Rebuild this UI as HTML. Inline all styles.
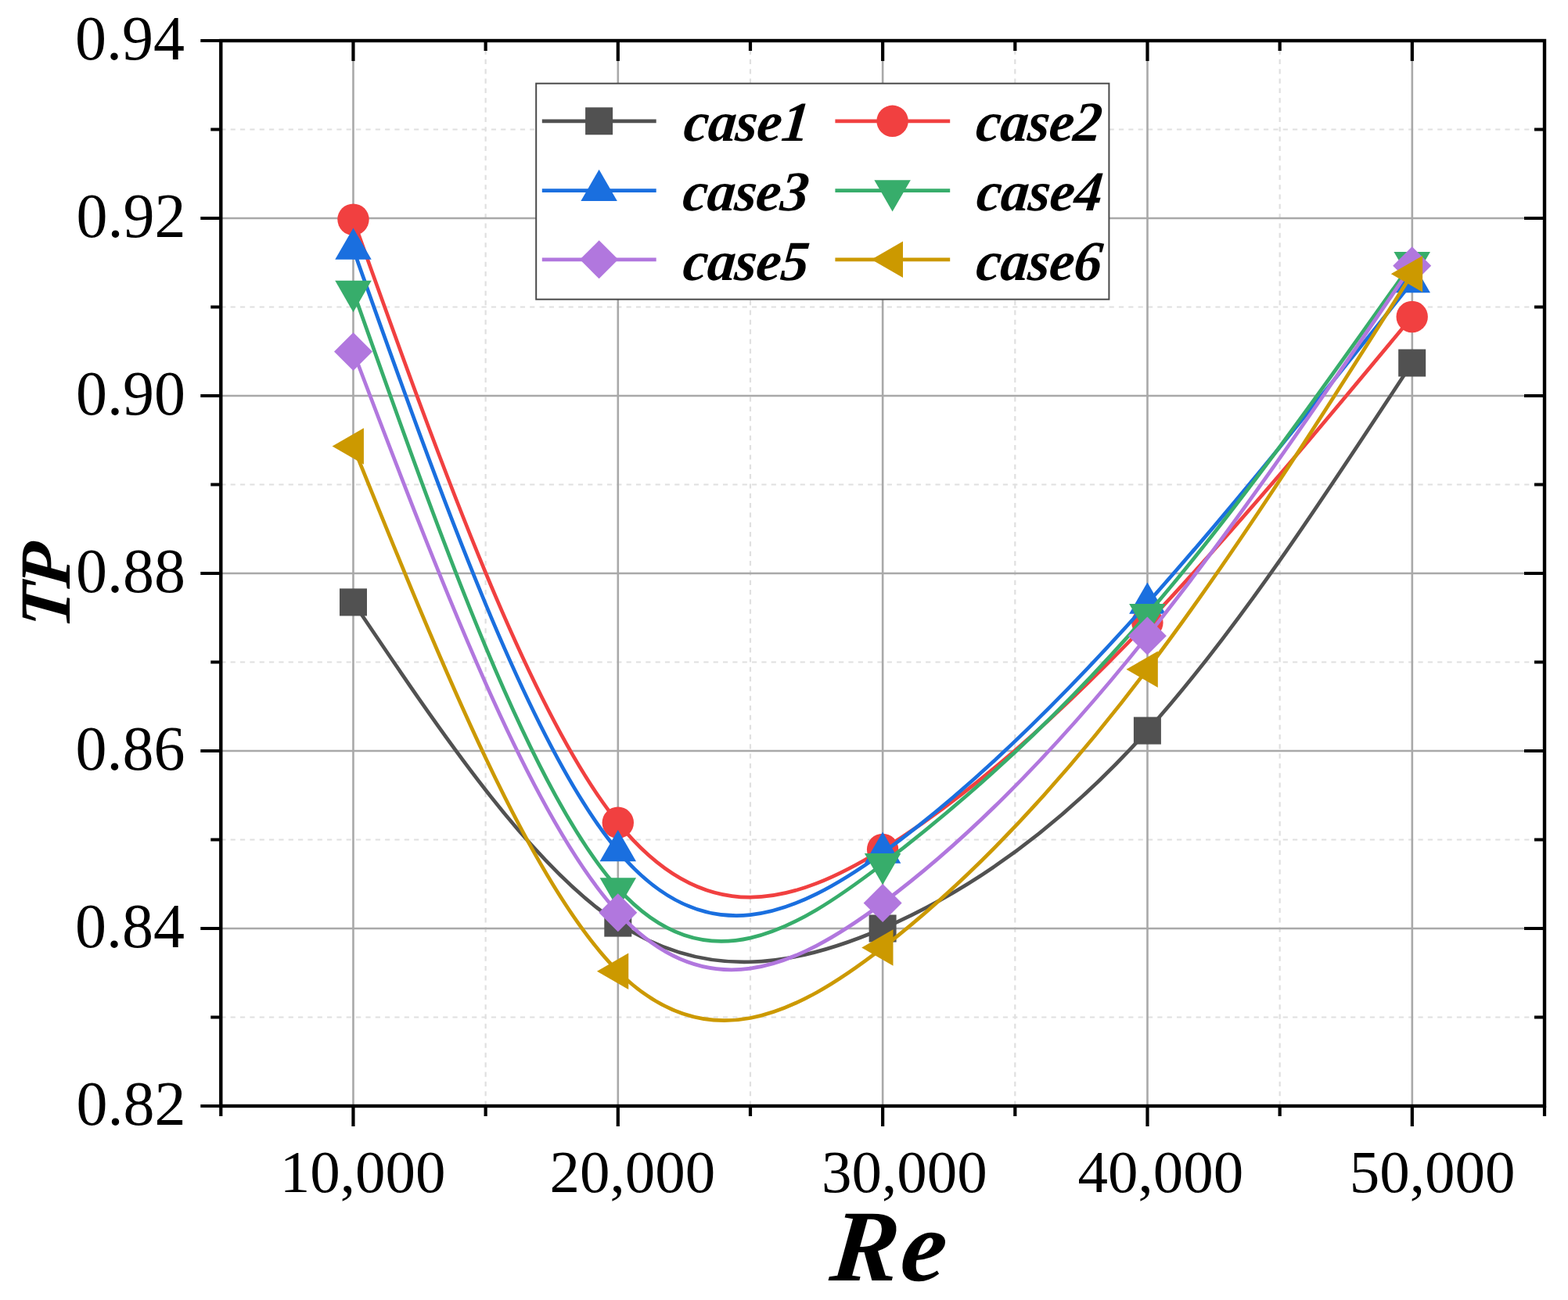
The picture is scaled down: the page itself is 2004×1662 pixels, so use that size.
<!DOCTYPE html><html><head><meta charset="utf-8"><title>TP vs Re</title><style>html,body{margin:0;padding:0;background:#fff;overflow:hidden;}svg{display:block;}</style></head><body>
<svg width="2004" height="1662" viewBox="0 0 2004 1662">
<rect width="2004" height="1662" fill="#fff"/>
<path d="M282.3,165.50H1974.0M282.3,392.50H1974.0M282.3,619.50H1974.0M282.3,846.50H1974.0M282.3,1073.50H1974.0M282.3,1300.50H1974.0" stroke="#e0e0e0" stroke-width="2.2" stroke-dasharray="6.2 6.14" fill="none"/>
<path d="M620.64,52.0V1414.0M958.98,52.0V1414.0M1297.32,52.0V1414.0M1635.66,52.0V1414.0" stroke="#e0e0e0" stroke-width="2.2" stroke-dasharray="6.2 6.13" stroke-dashoffset="0.8" fill="none"/>
<path d="M282.3,279.00H1974.0M282.3,506.00H1974.0M282.3,733.00H1974.0M282.3,960.00H1974.0M282.3,1187.00H1974.0M451.47,52.0V1414.0M789.81,52.0V1414.0M1128.15,52.0V1414.0M1466.49,52.0V1414.0M1804.83,52.0V1414.0" stroke="#a9a9a9" stroke-width="2.6" fill="none"/>
<path d="M451.50,769.90C564.27,937.75 677.03,1105.60 789.80,1180.10C902.57,1254.60 1015.33,1235.75 1128.10,1187.00C1240.87,1138.25 1353.63,1059.58 1466.40,934.10C1579.17,808.62 1691.93,636.31 1804.70,464.00" stroke="#515151" stroke-width="4.7" fill="none"/>
<rect x="434.00" y="752.40" width="35" height="35" fill="#515151"/>
<rect x="772.30" y="1162.60" width="35" height="35" fill="#515151"/>
<rect x="1110.60" y="1169.50" width="35" height="35" fill="#515151"/>
<rect x="1448.90" y="916.60" width="35" height="35" fill="#515151"/>
<rect x="1787.20" y="446.50" width="35" height="35" fill="#515151"/>
<path d="M451.50,280.60C564.27,596.31 677.03,912.03 789.80,1051.70C902.57,1191.37 1015.33,1155.01 1128.10,1085.90C1240.87,1016.79 1353.63,914.94 1466.40,796.00C1579.17,677.06 1691.93,541.03 1804.70,405.00" stroke="#F14040" stroke-width="4.7" fill="none"/>
<circle cx="451.50" cy="280.60" r="20.2" fill="#F14040"/>
<circle cx="789.80" cy="1051.70" r="20.2" fill="#F14040"/>
<circle cx="1128.10" cy="1085.90" r="20.2" fill="#F14040"/>
<circle cx="1466.40" cy="796.00" r="20.2" fill="#F14040"/>
<circle cx="1804.70" cy="405.00" r="20.2" fill="#F14040"/>
<path d="M451.50,318.40C564.27,636.28 677.03,954.17 789.80,1087.90C902.57,1221.63 1015.33,1171.21 1128.10,1090.30C1240.87,1009.39 1353.63,897.98 1466.40,771.30C1579.17,644.62 1691.93,502.66 1804.70,360.70" stroke="#1A6FDF" stroke-width="4.7" fill="none"/>
<polygon points="451.50,291.53 474.75,331.83 428.25,331.83" fill="#1A6FDF"/>
<polygon points="789.80,1061.03 813.05,1101.33 766.55,1101.33" fill="#1A6FDF"/>
<polygon points="1128.10,1063.43 1151.35,1103.73 1104.85,1103.73" fill="#1A6FDF"/>
<polygon points="1466.40,744.43 1489.65,784.73 1443.15,784.73" fill="#1A6FDF"/>
<polygon points="1804.70,333.83 1827.95,374.13 1781.45,374.13" fill="#1A6FDF"/>
<path d="M451.50,372.30C564.27,691.64 677.03,1010.97 789.80,1135.70C902.57,1260.43 1015.33,1190.54 1128.10,1104.50C1240.87,1018.46 1353.63,916.26 1466.40,785.40C1579.17,654.54 1691.93,495.02 1804.70,335.50" stroke="#37AD6B" stroke-width="4.7" fill="none"/>
<polygon points="451.50,399.17 474.75,358.87 428.25,358.87" fill="#37AD6B"/>
<polygon points="789.80,1162.57 813.05,1122.27 766.55,1122.27" fill="#37AD6B"/>
<polygon points="1128.10,1131.37 1151.35,1091.07 1104.85,1091.07" fill="#37AD6B"/>
<polygon points="1466.40,812.27 1489.65,771.97 1443.15,771.97" fill="#37AD6B"/>
<polygon points="1804.70,362.37 1827.95,322.07 1781.45,322.07" fill="#37AD6B"/>
<path d="M451.50,449.40C564.27,746.58 677.03,1043.76 789.80,1166.70C902.57,1289.64 1015.33,1238.33 1128.10,1154.50C1240.87,1070.67 1353.63,954.32 1466.40,813.10C1579.17,671.88 1691.93,505.79 1804.70,339.70" stroke="#B177DE" stroke-width="4.7" fill="none"/>
<polygon points="451.50,424.90 476.00,449.40 451.50,473.90 427.00,449.40" fill="#B177DE"/>
<polygon points="789.80,1142.20 814.30,1166.70 789.80,1191.20 765.30,1166.70" fill="#B177DE"/>
<polygon points="1128.10,1130.00 1152.60,1154.50 1128.10,1179.00 1103.60,1154.50" fill="#B177DE"/>
<polygon points="1466.40,788.60 1490.90,813.10 1466.40,837.60 1441.90,813.10" fill="#B177DE"/>
<polygon points="1804.70,315.20 1829.20,339.70 1804.70,364.20 1780.20,339.70" fill="#B177DE"/>
<path d="M451.50,570.60C564.27,850.09 677.03,1129.59 789.80,1241.80C902.57,1354.01 1015.33,1298.94 1128.10,1211.60C1240.87,1124.26 1353.63,1004.65 1466.40,855.70C1579.17,706.75 1691.93,528.48 1804.70,350.20" stroke="#CC9900" stroke-width="4.7" fill="none"/>
<polygon points="424.63,570.60 464.93,547.35 464.93,593.85" fill="#CC9900"/>
<polygon points="762.93,1241.80 803.23,1218.55 803.23,1265.05" fill="#CC9900"/>
<polygon points="1101.23,1211.60 1141.53,1188.35 1141.53,1234.85" fill="#CC9900"/>
<polygon points="1439.53,855.70 1479.83,832.45 1479.83,878.95" fill="#CC9900"/>
<polygon points="1777.83,350.20 1818.13,326.95 1818.13,373.45" fill="#CC9900"/>
<rect x="685.2" y="106.7" width="732.2" height="276.0" fill="#fff" stroke="#4a4a4a" stroke-width="2"/>
<line x1="692.8" y1="154.8" x2="838.7" y2="154.8" stroke="#515151" stroke-width="4.7"/>
<rect x="748.10" y="137.30" width="35" height="35" fill="#515151"/>
<text transform="translate(872.25,179.50) skewX(-5.5)" font-family="'Liberation Serif', serif" font-weight="bold" font-style="italic" font-size="72" letter-spacing="-0.8">case1</text>
<line x1="1067.4" y1="154.8" x2="1214.2" y2="154.8" stroke="#F14040" stroke-width="4.7"/>
<circle cx="1140.60" cy="154.80" r="20.2" fill="#F14040"/>
<text transform="translate(1245.65,179.50) skewX(-5.5)" font-family="'Liberation Serif', serif" font-weight="bold" font-style="italic" font-size="72" letter-spacing="-0.8">case2</text>
<line x1="692.8" y1="243.6" x2="838.7" y2="243.6" stroke="#1A6FDF" stroke-width="4.7"/>
<polygon points="765.60,216.73 788.85,257.03 742.35,257.03" fill="#1A6FDF"/>
<text transform="translate(871.05,269.30) skewX(-5.5)" font-family="'Liberation Serif', serif" font-weight="bold" font-style="italic" font-size="72" letter-spacing="-0.8">case3</text>
<line x1="1067.4" y1="243.6" x2="1214.2" y2="243.6" stroke="#37AD6B" stroke-width="4.7"/>
<polygon points="1140.60,270.47 1163.85,230.17 1117.35,230.17" fill="#37AD6B"/>
<text transform="translate(1246.45,269.30) skewX(-5.5)" font-family="'Liberation Serif', serif" font-weight="bold" font-style="italic" font-size="72" letter-spacing="-0.8">case4</text>
<line x1="692.8" y1="331.8" x2="838.7" y2="331.8" stroke="#B177DE" stroke-width="4.7"/>
<polygon points="765.60,307.30 790.10,331.80 765.60,356.30 741.10,331.80" fill="#B177DE"/>
<text transform="translate(871.25,357.70) skewX(-5.5)" font-family="'Liberation Serif', serif" font-weight="bold" font-style="italic" font-size="72" letter-spacing="-0.8">case5</text>
<line x1="1067.4" y1="331.8" x2="1214.2" y2="331.8" stroke="#CC9900" stroke-width="4.7"/>
<polygon points="1113.73,331.80 1154.03,308.55 1154.03,355.05" fill="#CC9900"/>
<text transform="translate(1245.95,357.70) skewX(-5.5)" font-family="'Liberation Serif', serif" font-weight="bold" font-style="italic" font-size="72" letter-spacing="-0.8">case6</text>
<rect x="282.30" y="52.00" width="1691.70" height="1362.00" fill="none" stroke="#000" stroke-width="4.4"/>
<path d="M256.30,52.00H282.30M269.30,165.50H282.30M1961.00,165.50H1974.00M256.30,279.00H282.30M1948.00,279.00H1974.00M269.30,392.50H282.30M1961.00,392.50H1974.00M256.30,506.00H282.30M1948.00,506.00H1974.00M269.30,619.50H282.30M1961.00,619.50H1974.00M256.30,733.00H282.30M1948.00,733.00H1974.00M269.30,846.50H282.30M1961.00,846.50H1974.00M256.30,960.00H282.30M1948.00,960.00H1974.00M269.30,1073.50H282.30M1961.00,1073.50H1974.00M256.30,1187.00H282.30M1948.00,1187.00H1974.00M269.30,1300.50H282.30M1961.00,1300.50H1974.00M256.30,1414.00H282.30M282.30,1414.00V1427.00M451.47,1414.00V1440.00M451.47,52.00V78.00M620.64,1414.00V1427.00M620.64,52.00V65.00M789.81,1414.00V1440.00M789.81,52.00V78.00M958.98,1414.00V1427.00M958.98,52.00V65.00M1128.15,1414.00V1440.00M1128.15,52.00V78.00M1297.32,1414.00V1427.00M1297.32,52.00V65.00M1466.49,1414.00V1440.00M1466.49,52.00V78.00M1635.66,1414.00V1427.00M1635.66,52.00V65.00M1804.83,1414.00V1440.00M1804.83,52.00V78.00M1974.00,1414.00V1427.00" stroke="#000" stroke-width="4.2" fill="none"/>
<text x="236.05" y="76.10" text-anchor="end" font-family="'Liberation Serif', serif" font-size="80">0.94</text>
<text x="237.55" y="303.10" text-anchor="end" font-family="'Liberation Serif', serif" font-size="80">0.92</text>
<text x="237.05" y="530.10" text-anchor="end" font-family="'Liberation Serif', serif" font-size="80">0.90</text>
<text x="237.05" y="757.10" text-anchor="end" font-family="'Liberation Serif', serif" font-size="80">0.88</text>
<text x="236.55" y="984.10" text-anchor="end" font-family="'Liberation Serif', serif" font-size="80">0.86</text>
<text x="236.05" y="1211.10" text-anchor="end" font-family="'Liberation Serif', serif" font-size="80">0.84</text>
<text x="237.55" y="1438.10" text-anchor="end" font-family="'Liberation Serif', serif" font-size="80">0.82</text>
<text x="357.83" y="1524.00" font-family="'Liberation Serif', serif" font-size="77">10,000</text>
<text x="702.42" y="1524.00" font-family="'Liberation Serif', serif" font-size="77">20,000</text>
<text x="1049.92" y="1524.00" font-family="'Liberation Serif', serif" font-size="77">30,000</text>
<text x="1377.50" y="1524.00" font-family="'Liberation Serif', serif" font-size="77">40,000</text>
<text x="1724.83" y="1524.00" font-family="'Liberation Serif', serif" font-size="77">50,000</text>
<text transform="translate(1058.70,1637.40) skewX(-5.5)" font-family="'Liberation Serif', serif" font-weight="bold" font-style="italic" font-size="130" letter-spacing="3">Re</text>
<text transform="translate(89.40,804.70) rotate(-90) skewX(-5.5)" font-family="'Liberation Serif', serif" font-weight="bold" font-style="italic" font-size="92" letter-spacing="-4.5">TP</text>
</svg></body></html>
